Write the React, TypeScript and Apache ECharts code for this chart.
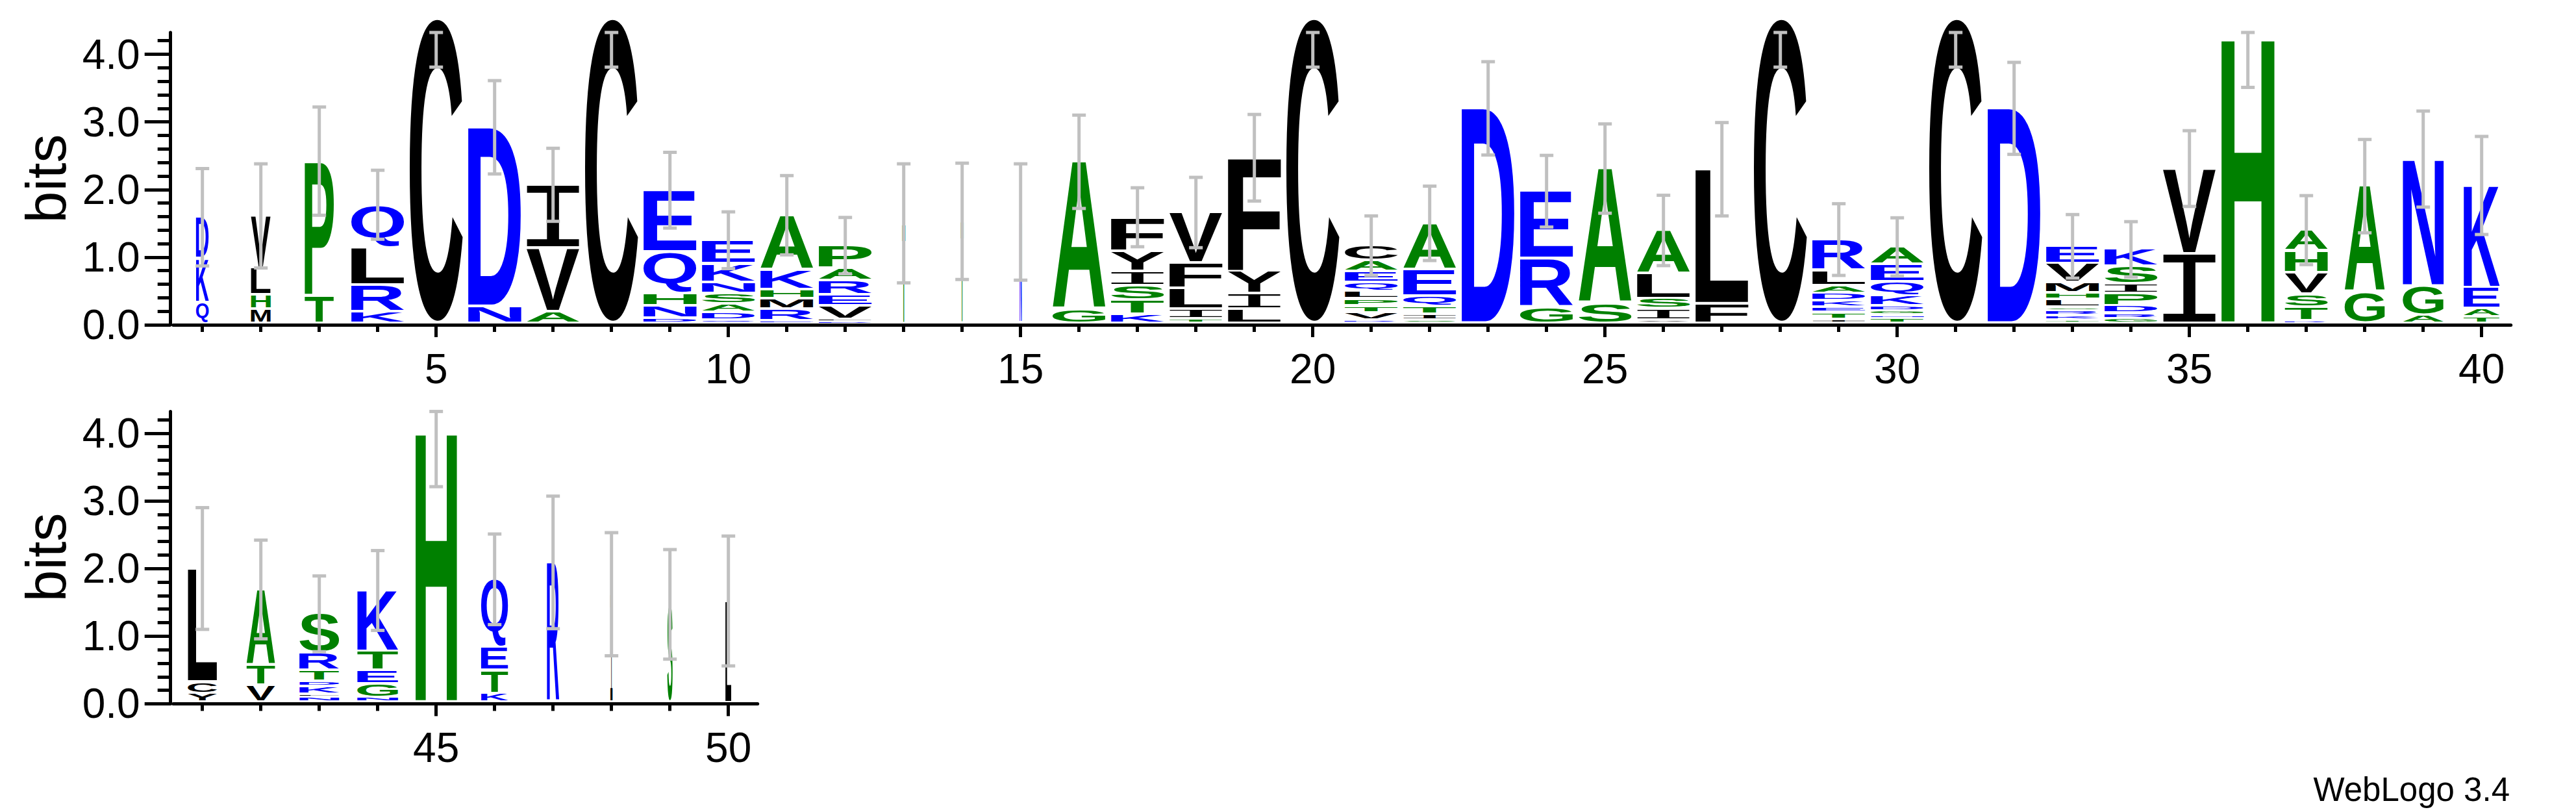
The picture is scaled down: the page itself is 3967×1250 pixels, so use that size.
import React, { useEffect, useRef } from "react";
import * as echarts from "echarts";

// ---------- data ----------
const positions = [
  1, 2, 3, 4, 5, 6, 7, 8, 9, 10, 11, 12, 13, 14, 15, 16, 17, 18, 19, 20,
  21, 22, 23, 24, 25, 26, 27, 28, 29, 30, 31, 32, 33, 34, 35, 36, 37, 38, 39, 40,
  41, 42, 43, 44, 45, 46, 47, 48, 49, 50,
];

// letters of each stack, bottom to top
const stackLetters = [
  "QKD", "MHLV", "TP", "KRLQ", "C", "ND", "AVI", "C", "DNHQE", "QDASNKE",
  "ERMHKA", "DLVERAP", "T", "T", "N", "GA", "KTSIYF", "TILFV", "LIYF", "C",
  "RVTPLQEAC", "SITQEA", "D", "GRE", "SA", "VISLA", "FL", "C", "ITEKDALR", "TNGDKQEA",
  "C", "D", "TKRSLHMVE", "GRDPISK", "IV", "H", "RTSVHA", "GA", "AGN", "TAEK",
  "YCL", "VTA", "NLKDTRS", "NGETK", "H", "KTEQ", "R", "I", "S", "L",
];

// height (bits) of each letter, bottom to top
const stackBits = [
  [0.31, 0.645, 0.615],
  [0.21, 0.21, 0.4, 0.77],
  [0.41, 1.99],
  [0.17, 0.4, 0.555, 0.63],
  [4.5],
  [0.25, 2.65],
  [0.17, 0.94, 0.94],
  [4.5],
  [0.08, 0.18, 0.18, 0.62, 0.91],
  [0.05, 0.115, 0.12, 0.155, 0.165, 0.275, 0.35],
  [0.04, 0.17, 0.15, 0.14, 0.29, 0.81],
  [0.03, 0.03, 0.2, 0.155, 0.215, 0.19, 0.33],
  [1.48],
  [1.51],
  [1.5],
  [0.2, 2.19],
  [0.13, 0.21, 0.22, 0.21, 0.3, 0.5],
  [0.065, 0.145, 0.31, 0.37, 0.75],
  [0.21, 0.23, 0.33, 1.68],
  [4.5],
  [0.045, 0.11, 0.105, 0.1, 0.105, 0.14, 0.16, 0.16, 0.225],
  [0.05, 0.085, 0.115, 0.15, 0.395, 0.685],
  [3.18],
  [0.235, 0.72, 1.0],
  [0.29, 2.0],
  [0.05, 0.165, 0.15, 0.37, 0.64],
  [0.29, 1.99],
  [4.5],
  [0.06, 0.1, 0.075, 0.1, 0.105, 0.115, 0.225, 0.46],
  [0.07, 0.05, 0.06, 0.074, 0.15, 0.21, 0.255, 0.263],
  [4.5],
  [3.18],
  [0.05, 0.06, 0.07, 0.055, 0.115, 0.1, 0.15, 0.28, 0.26],
  [0.07, 0.08, 0.11, 0.18, 0.14, 0.26, 0.255],
  [1.03, 1.26],
  [4.22],
  [0.04, 0.195, 0.195, 0.32, 0.32, 0.31],
  [0.46, 1.57],
  [0.12, 0.43, 1.88],
  [0.095, 0.12, 0.315, 1.51],
  [0.13, 0.17, 1.68],
  [0.25, 0.3, 1.12],
  [0.07, 0.05, 0.11, 0.08, 0.16, 0.26, 0.58],
  [0.07, 0.2, 0.2, 0.285, 0.9],
  [3.99],
  [0.13, 0.34, 0.34, 1.01],
  [2.07],
  [1.6],
  [1.45],
  [1.5],
];

// relative stack width (occupancy)
const stackWidths = [
  0.24, 0.37, 0.55, 1, 1, 1, 1, 1, 1, 1,
  1, 1, 0.06, 0.05, 0.04, 1, 1, 1, 1, 1,
  1, 1, 1, 1, 1, 1, 1, 1, 1, 1,
  1, 1, 1, 1, 1, 1, 0.81, 0.76, 0.77, 0.68,
  0.55, 0.54, 0.75, 0.77, 0.78, 0.51, 0.23, 0.04, 0.1, 0.11,
];

// half length of each error bar (bits)
const errorBits = [
  0.72, 0.77, 0.8, 0.51, 0.71, 0.69, 0.54, 0.71, 0.56, 0.42,
  0.586, 0.417, 0.88, 0.86, 0.86, 0.69, 0.436, 0.52, 0.64, 0.71,
  0.44, 0.55, 0.69, 0.53, 0.66, 0.52, 0.69, 0.71, 0.53, 0.43,
  0.71, 0.68, 0.47, 0.41, 0.56, 0.73, 0.51, 0.69, 0.71, 0.725,
  0.9, 0.73, 0.56, 0.59, 0.8, 0.67, 0.98, 0.91, 0.81, 0.96,
];

const topPositions = positions.slice(0, 40);
const bottomPositions = positions.slice(40);
const xMinorTicksTop = topPositions;
const xMajorTicksTop = [5, 10, 15, 20, 25, 30, 35, 40];
const xMinorTicksBottom = bottomPositions;
const xMajorTicksBottom = [45, 50];
const yMajorTicks = [0, 1, 2, 3, 4];
const yMinorTicks = [
  0.2, 0.4, 0.6, 0.8, 1.2, 1.4, 1.6, 1.8, 2.2, 2.4, 2.6, 2.8, 3.2, 3.4, 3.6, 3.8, 4.2,
];
const Y_MAX = 4.3219;

// ---------- style ----------
const BLUE = "#0000ff";
const GREEN = "#008000";
const BLACK = "#000000";
const ERR_COLOR = "#c0c0c0";
const HYDROPHILIC = "RKDENQ";
const NEUTRAL = "SGHTAP";
const FONT_PX = 200;
const LOGO_FONT = "Liberation Sans";
const SERIF_I_FONT = "Liberation Mono";
const LABEL_FONT = "'Liberation Sans', Arial, Helvetica, sans-serif";
const BAND_FRACTION = 0.907;
const STACK_BASE = 0.02;
const GAP_TOP = 1;
const GAP_BOTTOM = 3;

const colorOf = (ch: string) =>
  HYDROPHILIC.includes(ch) ? BLUE : NEUTRAL.includes(ch) ? GREEN : BLACK;
const fontOf = (ch: string) => (ch === "I" ? SERIF_I_FONT : LOGO_FONT);
const weightOf = (ch: string) => (ch === "I" ? "normal" : "bold");

type Glyph = { l: number; r: number; a: number; d: number; c: number };

function measureGlyphs(): Record<string, Glyph> {
  const out: Record<string, Glyph> = {};
  const canvas = document.createElement("canvas");
  const ctx = canvas.getContext("2d");
  const letters = "ACDEFGHIKLMNPQRSTVWY";
  for (const ch of letters) {
    out[ch] = { l: 0, r: 0.7 * FONT_PX, a: 0.72 * FONT_PX, d: 0, c: 0.3465 * FONT_PX };
  }
  if (!ctx) return out;
  ctx.textAlign = "left";
  ctx.textBaseline = "alphabetic";
  for (const ch of letters) {
    ctx.font = `${weightOf(ch)} ${FONT_PX}px "${fontOf(ch)}"`;
    const m = ctx.measureText(ch);
    const fa = (m as any).fontBoundingBoxAscent ?? 0.905 * FONT_PX;
    const fd = (m as any).fontBoundingBoxDescent ?? 0.212 * FONT_PX;
    out[ch] = {
      l: m.actualBoundingBoxLeft,
      r: m.actualBoundingBoxRight,
      a: m.actualBoundingBoxAscent,
      d: m.actualBoundingBoxDescent,
      c: (fa - fd) / 2,
    };
  }
  return out;
}

function makeRenderItem(glyphs: Record<string, Glyph>) {
  return (params: any, api: any) => {
    const pos = api.value(0);
    const i = pos - 1;
    const letters = stackLetters[i];
    const bits = stackBits[i];
    const band = api.size([1, 0])[0] * BAND_FRACTION * stackWidths[i];
    const cx = api.coord([pos, 0])[0];
    const x0 = cx - band / 2;
    const children: any[] = [];
    let cum = STACK_BASE;
    for (let k = 0; k < letters.length; k++) {
      const ch = letters[k];
      const h = bits[k];
      const yBottom = api.coord([pos, cum])[1];
      const yTop = api.coord([pos, cum + h])[1];
      cum += h;
      const inkTop = yTop + GAP_TOP;
      const inkBottom = yBottom - GAP_BOTTOM;
      const inkH = Math.max(inkBottom - inkTop, 0.8);
      const g = glyphs[ch];
      const sx = band / (g.l + g.r);
      const sy = inkH / (g.a + g.d);
      children.push({
        type: "text",
        x: x0 + g.l * sx,
        y: inkTop - (g.c - g.a) * sy,
        scaleX: sx,
        scaleY: sy,
        silent: true,
        style: {
          text: ch,
          fontSize: FONT_PX,
          fontWeight: weightOf(ch),
          fontFamily: fontOf(ch),
          fill: colorOf(ch),
          textAlign: "left",
          textVerticalAlign: "middle",
          align: "left",
          verticalAlign: "middle",
        },
      });
    }
    const e = errorBits[i];
    const yT = api.coord([pos, Math.min(cum + e, Y_MAX)])[1];
    const yB = api.coord([pos, Math.max(cum - e, 0)])[1];
    const errStyle = { stroke: ERR_COLOR, lineWidth: 5 };
    children.push({ type: "line", silent: true, shape: { x1: cx, y1: yT, x2: cx, y2: yB }, style: errStyle });
    children.push({ type: "line", silent: true, shape: { x1: cx - 10.5, y1: yT, x2: cx + 10.5, y2: yT }, style: errStyle });
    children.push({ type: "line", silent: true, shape: { x1: cx - 10.5, y1: yB, x2: cx + 10.5, y2: yB }, style: errStyle });
    return { type: "group", children };
  };
}

const axisLineStyle = { color: BLACK, width: 5 };
const labelStyle = { color: BLACK, fontSize: 64, fontFamily: LABEL_FONT };

function xAxes(grid: number, min: number, max: number, minor: number[], major: number[]) {
  return [
    {
      gridIndex: grid, type: "value", min, max, position: "bottom",
      axisLine: { show: true, onZero: false, lineStyle: axisLineStyle },
      axisTick: { show: true, customValues: minor, length: 11, lineStyle: axisLineStyle },
      axisLabel: { show: false },
      splitLine: { show: false },
    },
    {
      gridIndex: grid, type: "value", min, max, position: "bottom",
      axisLine: { show: false, onZero: false },
      axisTick: { show: true, customValues: major, length: 19, lineStyle: axisLineStyle },
      axisLabel: { show: true, customValues: major, margin: 36, formatter: (v: number) => String(v), ...labelStyle },
      splitLine: { show: false },
    },
  ];
}

function yAxes(grid: number) {
  return [
    {
      gridIndex: grid, type: "value", min: 0, max: Y_MAX, position: "left", offset: 4,
      axisLine: { show: true, onZero: false, lineStyle: axisLineStyle },
      axisTick: { show: true, customValues: yMajorTicks, length: 40, lineStyle: axisLineStyle },
      axisLabel: { show: true, customValues: yMajorTicks, margin: 47, formatter: (v: number) => v.toFixed(1), ...labelStyle },
      splitLine: { show: false },
    },
    {
      gridIndex: grid, type: "value", min: 0, max: Y_MAX, position: "left", offset: 4,
      axisLine: { show: false, onZero: false },
      axisTick: { show: true, customValues: yMinorTicks, length: 20, lineStyle: axisLineStyle },
      axisLabel: { show: false },
      splitLine: { show: false },
    },
  ];
}

export default function App() {
  const ref = useRef<HTMLDivElement>(null);
  useEffect(() => {
    if (!ref.current) return;
    const chart = echarts.init(ref.current, null, { renderer: "svg" });
    const glyphs = measureGlyphs();
    const renderItem = makeRenderItem(glyphs);
    chart.setOption({
      animation: false,
      backgroundColor: "#ffffff",
      grid: [
        { left: 266.7, top: 50, width: 3600, height: 450 },
        { left: 266.7, top: 633.4, width: 900, height: 450 },
      ],
      xAxis: [
        ...xAxes(0, 0.5, 40.5, xMinorTicksTop, xMajorTicksTop),
        ...xAxes(1, 40.5, 50.5, xMinorTicksBottom, xMajorTicksBottom),
      ],
      yAxis: [...yAxes(0), ...yAxes(1)],
      graphic: [
        {
          type: "text", x: 70.5, y: 275, rotation: Math.PI / 2, silent: true,
          style: { text: "bits", fontSize: 88, fontFamily: LABEL_FONT, fill: BLACK, textAlign: "center", textVerticalAlign: "middle" },
        },
        {
          type: "text", x: 70.5, y: 858, rotation: Math.PI / 2, silent: true,
          style: { text: "bits", fontSize: 88, fontFamily: LABEL_FONT, fill: BLACK, textAlign: "center", textVerticalAlign: "middle" },
        },
        {
          type: "text", x: 3865, y: 1215.6, silent: true,
          style: { text: "WebLogo 3.4", fontSize: 51, fontFamily: LABEL_FONT, fill: BLACK, textAlign: "right", textVerticalAlign: "middle" },
        },
      ],
      series: [
        {
          type: "custom", xAxisIndex: 0, yAxisIndex: 0, silent: true,
          data: topPositions.map((p) => [p]),
          renderItem,
        },
        {
          type: "custom", xAxisIndex: 2, yAxisIndex: 2, silent: true,
          data: bottomPositions.map((p) => [p]),
          renderItem,
        },
      ],
    });
    return () => chart.dispose();
  }, []);
  return (
    <div
      ref={ref}
      style={{ position: "absolute", left: 0, top: 0, width: 3967, height: 1250, background: "#fff" }}
    />
  );
}
